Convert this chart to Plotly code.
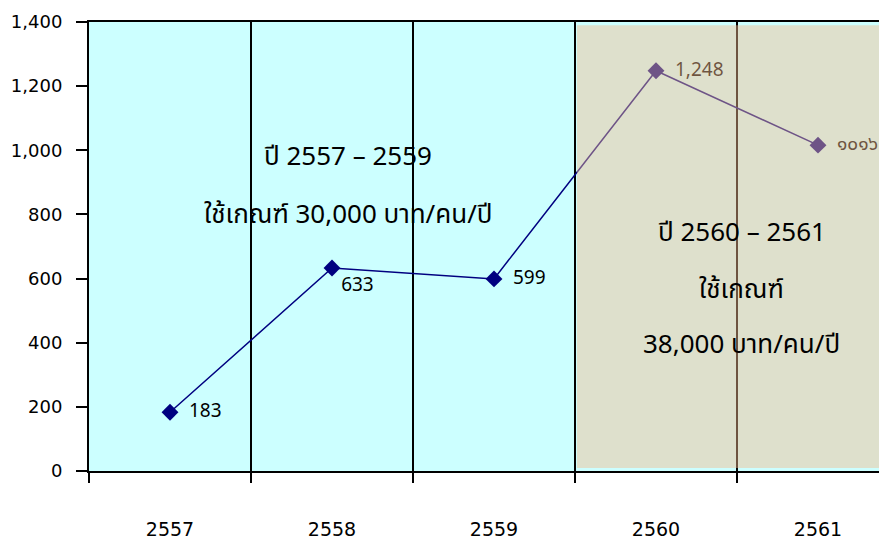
import plotly.graph_objects as go

years = ["2557", "2558", "2559", "2560", "2561"]
values = [183, 633, 599, 1248, 1016]
point_labels = ["183", "633", "599", "1,248", "๑๐๑๖"]
label_positions = ["middle right", "bottom right", "middle right", "middle right", "middle right"]
y_ticks = [0, 200, 400, 600, 800, 1000, 1200, 1400]
y_tick_text = ["0", "200", "400", "600", "800", "1,000", "1,200", "1,400"]

FONT = "Tahoma, Verdana, 'DejaVu Sans', sans-serif"
THAI = "Tahoma, 'Noto Sans Thai', 'Noto Sans', 'DejaVu Sans', sans-serif"

NB = "\u00a0"
shown_labels = [(NB * 2 if p != "bottom right" else "") + t for t, p in zip(point_labels, label_positions)]

fig = go.Figure()
fig.add_trace(go.Scatter(
    x=years, y=values, mode="lines+markers+text",
    line=dict(color="#000080", width=1.5),
    marker=dict(symbol="diamond", size=13, color="#000080"),
    text=shown_labels, textposition=label_positions,
    textfont=dict(family=THAI, size=19, color="#000000"),
    cliponaxis=False, showlegend=False,
))

x_end = -0.5 + 798 / 162.0

# semi-transparent overlay for 2560-2561 period
fig.add_shape(type="rect", xref="x", yref="y", x0=2.512, x1=x_end, y0=9.5, y1=1390,
              fillcolor="rgb(244,187,142)", opacity=0.45, line=dict(width=0), layer="above")

ann_font = dict(family=THAI, size=26, color="#000000")
fig.add_annotation(x=1.10, y=979, xref="x", yref="y", text="ปี 2557 – 2559", showarrow=False, font=ann_font)
fig.add_annotation(x=1.10, y=798, xref="x", yref="y", text="ใช้เกณฑ์ 30,000 บาท/คน/ปี", showarrow=False, font=ann_font)
fig.add_annotation(x=3.53, y=742, xref="x", yref="y", text="ปี 2560 – 2561", showarrow=False, font=ann_font)
fig.add_annotation(x=3.53, y=564, xref="x", yref="y", text="ใช้เกณฑ์", showarrow=False, font=ann_font)
fig.add_annotation(x=3.53, y=393, xref="x", yref="y", text="38,000 บาท/คน/ปี", showarrow=False, font=ann_font)

# the page body adds an 8px offset; size the figure to end at the window edge
fig.update_layout(
    width=879, height=534,
    margin=dict(l=81, r=0, t=14, b=71),
    paper_bgcolor="white", plot_bgcolor="#CCFFFF",
    font=dict(family=FONT, size=18, color="#000000"),
    showlegend=False,
    xaxis=dict(
        type="category", range=[-0.5, x_end], tickson="boundaries",
        showgrid=True, gridcolor="#000000", gridwidth=1.5,
        showline=True, linecolor="#000000", linewidth=2, mirror=True,
        ticks="outside", ticklen=10, tickwidth=2, tickcolor="#000000",
        ticklabelstandoff=40, tickfont=dict(family=FONT, size=19),
        zeroline=False, fixedrange=True, automargin=False,
    ),
    yaxis=dict(
        range=[0, 1400], tickvals=y_ticks, ticktext=y_tick_text,
        showgrid=False, zeroline=False,
        showline=True, linecolor="#000000", linewidth=2,
        ticks="outside", ticklen=11, tickwidth=2, tickcolor="#000000",
        ticklabelstandoff=10, tickfont=dict(family=FONT, size=18),
        fixedrange=True, automargin=False,
    ),
)

fig.write_html("out.html")
